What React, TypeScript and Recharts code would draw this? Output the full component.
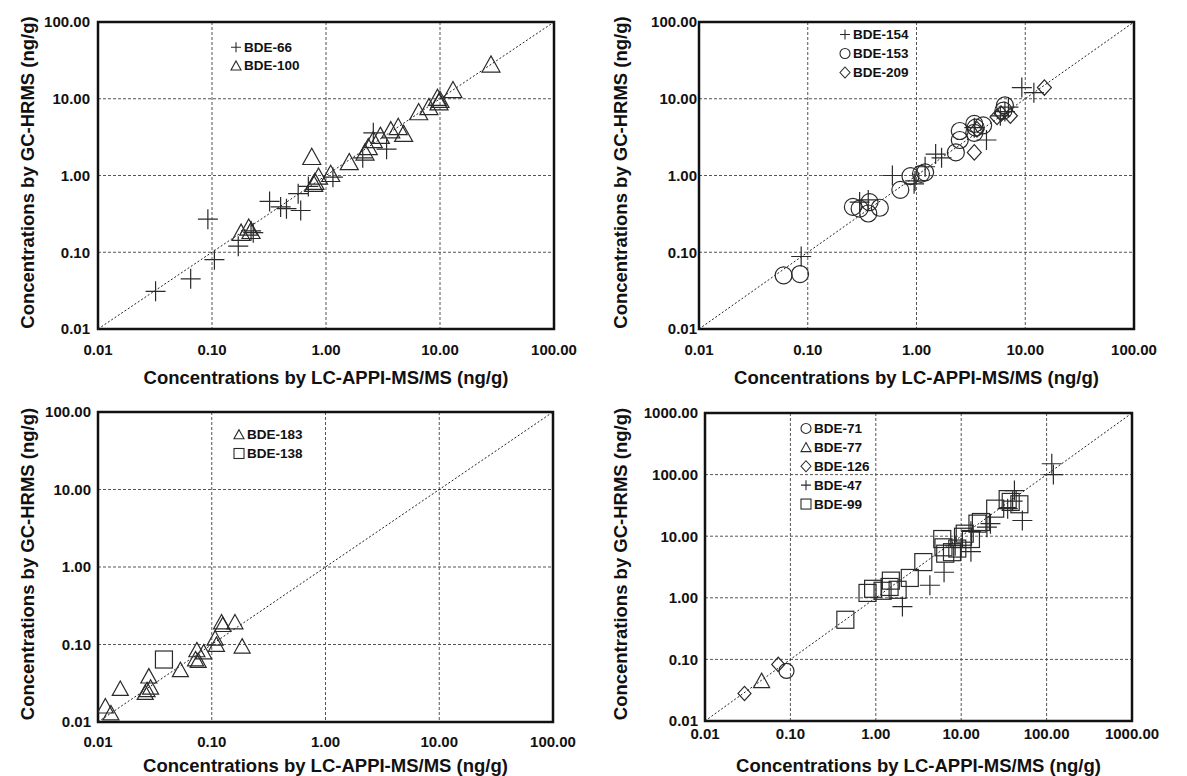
import React from 'react';
import { ScatterChart, Scatter, XAxis, YAxis, CartesianGrid, ReferenceLine, ReferenceArea, Legend, Label } from 'recharts';

type Pt = [number, number];
type Mark = 'plus' | 'triangle' | 'circle' | 'diamond' | 'square';

// axis ticks
const ticks4 = [0.01, 0.1, 1, 10, 100];
const ticks5 = [0.01, 0.1, 1, 10, 100, 1000];

// panel 1
const bde66: Pt[] = [
  [0.032, 0.031], [0.065, 0.045], [0.092, 0.27], [0.105, 0.08], [0.17, 0.12], [0.22, 0.19], [0.23, 0.18],
  [0.32, 0.46], [0.4, 0.39], [0.45, 0.37], [0.6, 0.35], [0.57, 0.58], [0.7, 0.72], [1.15, 0.95],
  [2.1, 1.7], [2.6, 3.6], [3.4, 2.2],
];
const bde100: Pt[] = [
  [28, 28], [13, 13], [10, 9.7], [9.5, 10.3], [9.8, 9], [8, 7.8], [6.5, 6.7], [4.8, 3.5], [4.3, 4.3],
  [3.7, 3.9], [3.0, 3.3], [2.6, 2.9], [2.35, 2.35], [2.2, 2.0], [1.6, 1.5], [0.75, 1.75], [1.1, 1.05],
  [0.86, 0.97], [0.8, 0.83], [0.78, 0.78], [0.18, 0.18], [0.21, 0.21], [0.22, 0.19],
];

// panel 2
const bde154: Pt[] = [
  [0.087, 0.088], [0.3, 0.45], [0.36, 0.48], [0.6, 1.0], [0.95, 0.78], [0.97, 0.85], [1.2, 1.3],
  [1.5, 1.9], [1.7, 1.7], [3.4, 4.2], [4.4, 2.9], [5.9, 6.0], [6.5, 6.8], [7.0, 7.8], [9.3, 14], [12, 12],
];
const bde153: Pt[] = [
  [0.06, 0.05], [0.085, 0.052], [0.26, 0.39], [0.3, 0.37], [0.36, 0.32], [0.37, 0.45], [0.46, 0.38],
  [0.71, 0.65], [0.88, 0.98], [1.1, 1.05], [1.2, 1.1], [2.3, 2.0], [2.5, 2.9], [2.5, 3.8], [3.4, 4.7],
  [3.5, 4.2], [3.4, 3.6], [4.1, 4.5], [6.5, 8.2], [6.3, 7.0],
];
const bde209: Pt[] = [[15, 14], [3.4, 2.0], [3.6, 4.0], [5.5, 5.8], [7.3, 6.0], [6.0, 6.4]];

// panel 3
const bde183: Pt[] = [
  [0.0116, 0.016], [0.013, 0.013], [0.0157, 0.027], [0.028, 0.039], [0.027, 0.026], [0.029, 0.028],
  [0.026, 0.024], [0.053, 0.047], [0.074, 0.085], [0.072, 0.065], [0.076, 0.062], [0.085, 0.08],
  [0.107, 0.12], [0.11, 0.1], [0.122, 0.195], [0.125, 0.18], [0.16, 0.195], [0.185, 0.095],
];
const bde138: Pt[] = [[0.038, 0.064]];

// panel 4
const bde71: Pt[] = [[0.09, 0.065]];
const bde77: Pt[] = [[0.046, 0.045]];
const bde126: Pt[] = [[0.029, 0.028], [0.072, 0.083]];
const bde47: Pt[] = [
  [115, 150], [120, 100], [52, 18], [42, 55], [40, 37], [35, 28], [20, 14], [22, 16], [13, 12],
  [13, 5.6], [10, 6.5], [8.5, 7], [6.3, 2.6], [4.3, 1.6], [2.05, 0.72],
];
const bde99: Pt[] = [
  [0.44, 0.44], [0.8, 1.2], [0.93, 1.4], [1.2, 1.3], [1.45, 1.5], [1.5, 1.9], [1.8, 1.35], [2.5, 2.1],
  [3.6, 3.8], [6.0, 9.0], [6.2, 6.6], [6.5, 5.2], [7.8, 5.5], [9, 6.3], [10.5, 9.8], [11, 11], [13, 9],
  [15.5, 16], [17, 17], [25, 28], [38, 36], [48, 33], [35, 40],
];

const X_TITLE = 'Concentrations by LC-APPI-MS/MS (ng/g)';
const Y_TITLE = 'Concentrations by GC-HRMS (ng/g)';
const FONT = '"Liberation Sans", Arial, sans-serif';
const INK = '#2a2a2a';

const drawMark = (kind: Mark, cx: number, cy: number, s: number, sw = 1.2) => {
  const common = { stroke: INK, strokeWidth: sw, fill: 'none' };
  switch (kind) {
    case 'plus':
      return <path d={`M${cx - s},${cy}H${cx + s}M${cx},${cy - s}V${cy + s}`} {...common} />;
    case 'triangle':
      return <path d={`M${cx},${cy - s * 0.95}L${cx + s},${cy + s * 0.85}L${cx - s},${cy + s * 0.85}Z`} {...common} />;
    case 'circle':
      return <circle cx={cx} cy={cy} r={s} {...common} />;
    case 'diamond':
      return <path d={`M${cx},${cy - s * 1.1}L${cx + s},${cy}L${cx},${cy + s * 1.1}L${cx - s},${cy}Z`} {...common} />;
    default:
      return <rect x={cx - s} y={cy - s} width={2 * s} height={2 * s} {...common} />;
  }
};

interface SeriesDef { name: string; data: Pt[]; mark: Mark; size: number; }
interface PanelDef {
  left: number; top: number; w: number; h: number; ticks: number[];
  series: SeriesDef[];
  legendX: number; legendY: number; legendGap: number; legendTextDx: number;
  yTickGap: number; xTickGap: number; yTitleGap: number; xTitleGap: number;
}

const PADL = 110;
const PADT = 30;
const PADR = 40;
const PADB = 62;

const panels: PanelDef[] = [
  {
    left: 98, top: 22, w: 456, h: 307, ticks: ticks4,
    series: [
      { name: 'BDE-66', data: bde66, mark: 'plus', size: 10 },
      { name: 'BDE-100', data: bde100, mark: 'triangle', size: 9 },
    ],
    legendX: 236, legendY: 47, legendGap: 18.5, legendTextDx: 8,
    yTickGap: 8, xTickGap: 15, yTitleGap: 71, xTitleGap: 48,
  },
  {
    left: 699, top: 22, w: 435, h: 307, ticks: ticks4,
    series: [
      { name: 'BDE-154', data: bde154, mark: 'plus', size: 10 },
      { name: 'BDE-153', data: bde153, mark: 'circle', size: 8.5 },
      { name: 'BDE-209', data: bde209, mark: 'diamond', size: 7 },
    ],
    legendX: 845, legendY: 34.5, legendGap: 19, legendTextDx: 8,
    yTickGap: 2, xTickGap: 15, yTitleGap: 79, xTitleGap: 48,
  },
  {
    left: 98, top: 412, w: 455, h: 310, ticks: ticks4,
    series: [
      { name: 'BDE-183', data: bde183, mark: 'triangle', size: 8 },
      { name: 'BDE-138', data: bde138, mark: 'square', size: 8.5 },
    ],
    legendX: 239, legendY: 434.5, legendGap: 19, legendTextDx: 8,
    yTickGap: 7, xTickGap: 14, yTitleGap: 71, xTitleGap: 43,
  },
  {
    left: 705, top: 413, w: 427, h: 308, ticks: ticks5,
    series: [
      { name: 'BDE-71', data: bde71, mark: 'circle', size: 7.5 },
      { name: 'BDE-77', data: bde77, mark: 'triangle', size: 8 },
      { name: 'BDE-126', data: bde126, mark: 'diamond', size: 6.5 },
      { name: 'BDE-47', data: bde47, mark: 'plus', size: 10 },
      { name: 'BDE-99', data: bde99, mark: 'square', size: 8.5 },
    ],
    legendX: 805.5, legendY: 428.5, legendGap: 18.9, legendTextDx: 8,
    yTickGap: 7, xTickGap: 7, yTitleGap: 85, xTitleGap: 44,
  },
];

const fmt = (v: number) => v.toFixed(2);

const Panel = ({ p }: { p: PanelDef }) => {
  const lo = p.ticks[0];
  const hi = p.ticks[p.ticks.length - 1];
  const chartLeft = p.left - PADL;
  const chartTop = p.top - PADT;
  const tickStyle = { fontSize: 15, fontWeight: 700, fill: '#111', fontFamily: FONT };

  const legendContent = () => {
    const rows = p.series.length;
    return (
      <svg width={110} height={rows * p.legendGap + 4} style={{ display: 'block' }}>
        {p.series.map((s, i) => {
          const cy = p.legendGap / 2 + i * p.legendGap + 2;
          return (
            <g key={s.name}>
              {drawMark(s.mark, 6, cy, 5, 1.1)}
              <text x={6 + p.legendTextDx} y={cy} dominantBaseline="central" fontSize={13.5} fontWeight={700} fill="#111" fontFamily={FONT}>
                {s.name}
              </text>
            </g>
          );
        })}
      </svg>
    );
  };

  return (
    <div style={{ position: 'absolute', left: chartLeft, top: chartTop }}>
      <ScatterChart
        width={p.w + PADL + PADR}
        height={p.h + PADT + PADB}
        margin={{ top: PADT, right: PADR, bottom: 0, left: 0 }}
      >
        <CartesianGrid stroke="#555" strokeDasharray="3 2" strokeWidth={1} />
        <XAxis
          type="number"
          dataKey="x"
          scale="log"
          domain={[lo, hi]}
          ticks={p.ticks}
          allowDataOverflow
          height={PADB}
          tickLine={false}
          axisLine={false}
          tickSize={0}
          tickMargin={p.xTickGap}
          tick={tickStyle}
          tickFormatter={fmt}
          interval={0}
        >
          <Label
            content={(props: any) => {
              const vb = props.viewBox || {};
              return (
                <text x={vb.x + vb.width / 2} y={vb.y + p.xTitleGap} textAnchor="middle" dominantBaseline="central" fontSize={18.5} fontWeight={700} fill="#111" fontFamily={FONT}>
                  {X_TITLE}
                </text>
              );
            }}
          />
        </XAxis>
        <YAxis
          type="number"
          dataKey="y"
          scale="log"
          domain={[lo, hi]}
          ticks={p.ticks}
          allowDataOverflow
          width={PADL}
          tickLine={false}
          axisLine={false}
          tickSize={0}
          tickMargin={p.yTickGap}
          tick={tickStyle}
          tickFormatter={fmt}
          interval={0}
        >
          <Label
            content={(props: any) => {
              const vb = props.viewBox || {};
              const x = vb.x + vb.width - p.yTitleGap;
              const y = vb.y + vb.height / 2 - 3;
              return (
                <text x={x} y={y} transform={`rotate(-90 ${x} ${y})`} textAnchor="middle" dominantBaseline="central" fontSize={18.5} fontWeight={700} fill="#111" fontFamily={FONT}>
                  {Y_TITLE}
                </text>
              );
            }}
          />
        </YAxis>
        <ReferenceLine
          segment={[{ x: lo, y: lo }, { x: hi, y: hi }]}
          stroke="#222"
          strokeDasharray="2 2"
          strokeWidth={1}
        />
        {p.series.map((s) => (
          <Scatter
            key={s.name}
            name={s.name}
            data={s.data.map(([x, y]) => ({ x, y }))}
            isAnimationActive={false}
            shape={(props: any) => drawMark(s.mark, props.cx, props.cy, s.size)}
          />
        ))}
        <ReferenceArea x1={lo} x2={hi} y1={lo} y2={hi} fill="none" fillOpacity={0} stroke="#111" strokeWidth={2.5} />
        <Legend
          layout="horizontal"
          align="center"
          verticalAlign="middle"
          content={legendContent}
          wrapperStyle={{
            position: 'absolute',
            left: p.legendX - 6 - chartLeft,
            top: p.legendY - p.legendGap / 2 - 2 - chartTop,
            width: 110,
          }}
        />
      </ScatterChart>
    </div>
  );
};

export default function App() {
  return (
    <div style={{ position: 'absolute', left: 0, top: 0, width: 1187, height: 776, background: '#fff', overflow: 'hidden' }}>
      {panels.map((p, i) => (
        <Panel key={i} p={p} />
      ))}
    </div>
  );
}
